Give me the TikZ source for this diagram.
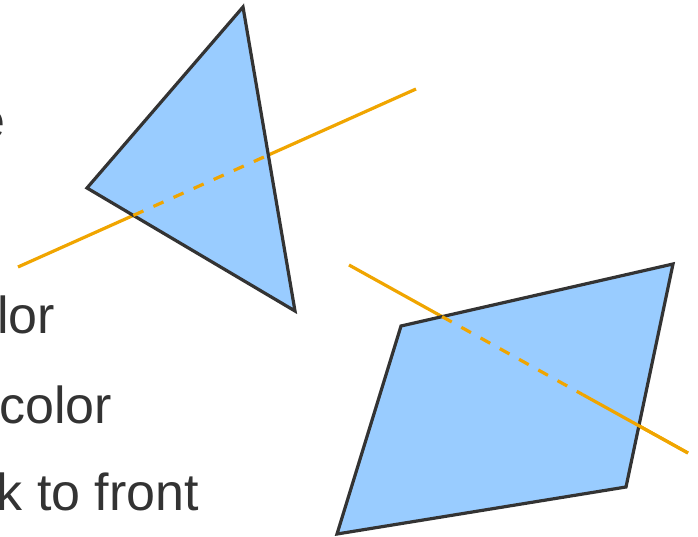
\documentclass[tikz,border=0pt]{standalone}
\usepackage{fontspec}
\setmainfont{Liberation Sans}
\usepackage{tikz}
\usetikzlibrary{calc,intersections}
\definecolor{ink}{RGB}{51,51,51}
\definecolor{plane}{RGB}{153,204,255}
\definecolor{ray}{RGB}{240,165,0}
\tikzset{
  facet/.style={draw=ink,fill=plane,line width=3.2pt,line join=miter},
  rayline/.style={draw=ray,line width=3.2pt},
  hidden/.style={rayline,dash pattern=on 11pt off 11pt},
  bullet/.style={anchor=base west,inner sep=0pt,text=ink,font=\fontsize{52}{60}\selectfont}
}

\begin{document}
\begin{tikzpicture}[x=1pt,y=-1pt]
\useasboundingbox (0,0) rectangle (698,537);
\clip (0,0) rectangle (698,537);
% clipped text lines
\node[bullet,anchor=base east] (te) at (6,139){e};
\node[bullet] (tlor) at (-3,333){lor};
\node[bullet] (tcolor) at (-1,423){color};
\node[bullet] (tfront) at (-3.5,510){k to front};
% triangle with a ray behind it
\coordinate (a1) at (243,7);
\coordinate (a2) at (87,188);
\coordinate (a3) at (295,311);
\coordinate (r1s) at (18,267);
\coordinate (r1e) at (416,89);
\draw[rayline,name path=ray1] (r1s) -- (r1e);
\path[facet,name path=tri] (a1) -- (a2) -- (a3) -- cycle;
\path[name intersections={of=ray1 and tri,sort by=ray1,name=p}];
\draw[hidden] (p-1) -- (p-2);
% quad pierced by a ray
\coordinate (b1) at (401,326);
\coordinate (b2) at (673,264);
\coordinate (b3) at (626,487);
\coordinate (b4) at (337,534);
\coordinate (r2s) at (349,265);
\coordinate (r2e) at (688,453);
\draw[rayline,name path=ray2] (r2s) -- (r2e);
\path[facet,name path=quad] (b1) -- (b2) -- (b3) -- (b4) -- cycle;
\path[name intersections={of=ray2 and quad,sort by=ray2,name=q}];
\coordinate (hit) at ($(r2s)!0.69!(r2e)$);
\draw[hidden] (q-1) -- (hit);
\draw[rayline] (hit) -- (r2e);
\end{tikzpicture}
\end{document}
